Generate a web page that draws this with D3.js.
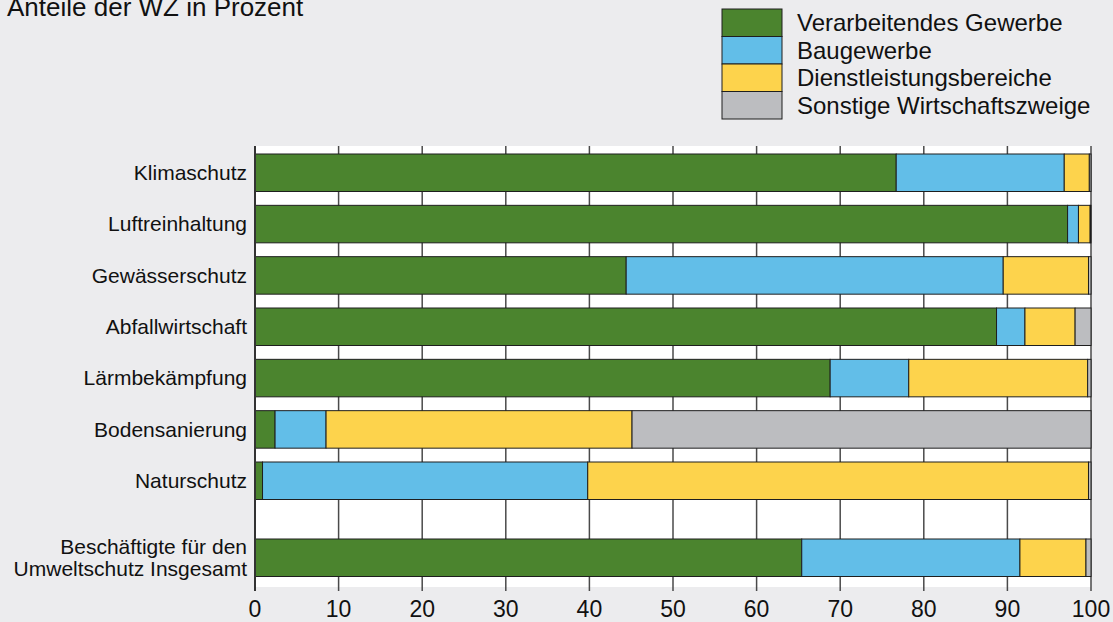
<!DOCTYPE html>
<html>
<head>
<meta charset="utf-8">
<script src="https://cdn.jsdelivr.net/npm/d3@7"></script>
<style>
  body { margin: 0; background: #ececee; }
  svg { display: block; font-family: "Liberation Sans", Arial, sans-serif; }
</style>
</head>
<body>
<div id="chart"></div>
<script>
// Anteile der Wirtschaftszweige an den Beschaeftigten fuer den Umweltschutz

var categories = ["Klimaschutz", "Luftreinhaltung", "Gewässerschutz", "Abfallwirtschaft",
    "Lärmbekämpfung", "Bodensanierung", "Naturschutz",
    "Beschäftigte für den\nUmweltschutz Insgesamt"];

var series = ["Verarbeitendes Gewerbe", "Baugewerbe", "Dienstleistungsbereiche", "Sonstige Wirtschaftszweige"];

var verarbeitend = [76.7, 97.2, 44.4, 88.7, 68.8, 2.4, 0.9, 65.4];
var baugewerbe   = [20.1, 1.3, 45.1, 3.4, 9.4, 6.1, 38.9, 26.1];
var dienstleist  = [3.0, 1.4, 10.2, 6.0, 21.4, 36.6, 59.9, 7.9];
var sonstige     = [0.2, 0.1, 0.3, 1.9, 0.4, 54.9, 0.3, 0.6];

var xTicks = [0, 10, 20, 30, 40, 50, 60, 70, 80, 90, 100];

var colors = ["#4b842e", "#62bee8", "#fdd34c", "#bcbdc0"];

var width = 1113, height = 622;
var plotLeft = 255, plotRight = 1091, plotTop = 146, plotBottom = 587;

var svg = d3.select("#chart").append("svg")
    .attr("width", width)
    .attr("height", height);

var x = d3.scaleLinear().domain([0, 100]).range([plotLeft, plotRight]);

// last row sits a half step lower than the others
function rowPos(i) {
    return i == categories.length - 1 ? i + 0.5 : i;
}
var y = d3.scaleLinear().domain([0, 7.5]).range([154, 539]);
var barH = 37.5;

// title (cut at the top edge, as in the original)
svg.append("text")
    .attr("x", 7)
    .attr("y", 16)
    .style("font-size", "26px")
    .style("fill", "#111")
    .text("Anteile der WZ in Prozent");

// plot background
svg.append("rect")
    .attr("x", plotLeft)
    .attr("y", plotTop)
    .attr("width", plotRight - plotLeft)
    .attr("height", plotBottom - plotTop)
    .style("fill", "#fff");

// grid lines
svg.selectAll(".grid")
    .data(xTicks.slice(1))
    .enter().append("line")
    .attr("x1", d => x(d))
    .attr("x2", d => x(d))
    .attr("y1", plotTop)
    .attr("y2", plotBottom + 4)
    .style("stroke", "#4a4a4a")
    .style("stroke-width", 1.5);

// stacked bars
var rows = categories.map(function(c, i) {
    return [verarbeitend[i], baugewerbe[i], dienstleist[i], sonstige[i]];
});

rows.forEach(function(vals, i) {
    var start = 0;
    vals.forEach(function(v, s) {
        svg.append("rect")
            .attr("x", x(start))
            .attr("y", y(rowPos(i)))
            .attr("width", x(start + v) - x(start))
            .attr("height", barH)
            .style("fill", colors[s])
            .style("stroke", "#1e1e1e")
            .style("stroke-width", 1);
        start += v;
    });
});

// left axis line
svg.append("line")
    .attr("x1", plotLeft)
    .attr("x2", plotLeft)
    .attr("y1", plotTop)
    .attr("y2", plotBottom + 4)
    .style("stroke", "#333")
    .style("stroke-width", 2);

// category labels
categories.forEach(function(c, i) {
    var lines = c.split("\n");
    var cy = y(rowPos(i)) + barH / 2;
    var t = svg.append("text")
        .attr("x", 247)
        .attr("text-anchor", "end")
        .style("font-size", "21px")
        .style("fill", "#111");
    lines.forEach(function(l, k) {
        t.append("tspan")
            .attr("x", 247)
            .attr("y", cy + (k - (lines.length - 1) / 2) * 22)
            .attr("dy", "0.35em")
            .text(l);
    });
});

// x axis labels
svg.selectAll(".xlab")
    .data(xTicks)
    .enter().append("text")
    .attr("x", d => x(d))
    .attr("y", 617)
    .attr("text-anchor", "middle")
    .style("font-size", "23px")
    .style("fill", "#111")
    .text(d => d);

// legend
var legY = 9, legH = 27.5;
series.forEach(function(s, i) {
    svg.append("rect")
        .attr("x", 722)
        .attr("y", legY + i * legH)
        .attr("width", 60)
        .attr("height", legH)
        .style("fill", colors[i])
        .style("stroke", "#1e1e1e")
        .style("stroke-width", 1);
    svg.append("text")
        .attr("x", 797)
        .attr("y", legY + i * legH + legH / 2)
        .attr("dy", "0.35em")
        .style("font-size", "24px")
        .style("fill", "#111")
        .text(s);
});
</script>
</body>
</html>
